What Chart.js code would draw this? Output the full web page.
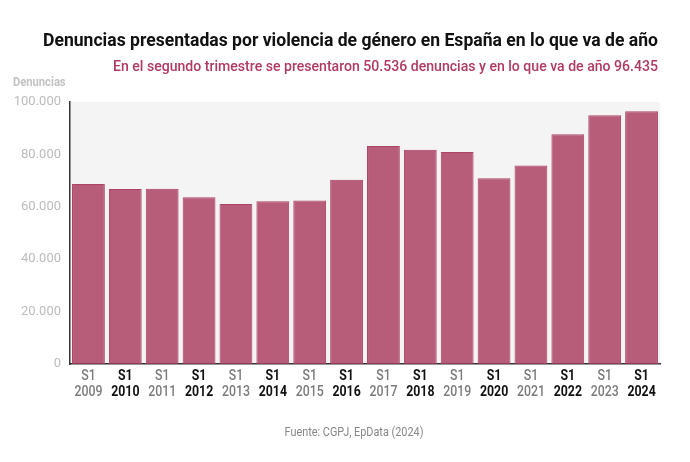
<!DOCTYPE html>
<html lang="es">
<head>
    <meta charset="UTF-8">
    <title>Denuncias por violencia de género</title>
    <script src="https://cdn.jsdelivr.net/npm/chart.js"></script>
    <style>
        html, body {margin: 0; padding: 0; background: #fff;}
        #wrap {width: 690px; height: 462px; position: relative;}
    </style>
</head>
<body>
    <div id="wrap">
        <canvas id="chart_canvas"></canvas>
    </div>
    <script>
        // Datos (primer semestre de cada año)
        const periods = ['S1', 'S1', 'S1', 'S1', 'S1', 'S1', 'S1', 'S1', 'S1', 'S1', 'S1', 'S1', 'S1', 'S1', 'S1', 'S1'];
        const years = ['2009', '2010', '2011', '2012', '2013', '2014', '2015', '2016', '2017', '2018', '2019', '2020', '2021', '2022', '2023', '2024'];
        const denuncias = [68700, 66800, 66900, 63600, 61100, 62100, 62400, 70300, 83200, 81800, 80900, 70900, 75800, 87700, 94900, 96435];
        const yTicks = [0, 20000, 40000, 60000, 80000, 100000];

        const titleText = 'Denuncias presentadas por violencia de género en España en lo que va de año';
        const subtitleText = 'En el segundo trimestre se presentaron 50.536 denuncias y en lo que va de año 96.435';
        const sourceText = 'Fuente: CGPJ, EpData (2024)';

        const fmt = (v) => String(v).replace(/\B(?=(\d{3})+(?!\d))/g, '.');

        // Texto algo "condensado": se escala en horizontal (no hay Roboto Condensed)
        function drawNarrow(ctx, text, x, y, align, sx) {
            const w = ctx.measureText(text).width * sx;
            let left = x;
            if (align === 'right') left = x - w;
            else if (align === 'center') left = x - w / 2;
            ctx.save();
            ctx.translate(left, y);
            ctx.scale(sx, 1);
            ctx.textAlign = 'left';
            ctx.fillText(text, 0, 0);
            ctx.restore();
        }
        function fitScale(ctx, text, width) {
            return width / ctx.measureText(text).width;
        }

        const decor = {
            id: 'decor',
            beforeDraw(chart) {
                const {ctx, chartArea: a} = chart;
                ctx.save();
                ctx.fillStyle = '#f4f4f4';
                ctx.fillRect(a.left, a.top, a.right - a.left, a.bottom - a.top);
                ctx.restore();
            },
            afterDraw(chart) {
                const ctx = chart.ctx;
                const xs = chart.scales.x;
                ctx.save();
                ctx.textBaseline = 'middle';

                ctx.fillStyle = '#111';
                ctx.font = 'bold 19px Roboto';
                drawNarrow(ctx, titleText, 658, 41, 'right', fitScale(ctx, titleText, 615));

                ctx.fillStyle = '#b03a62';
                ctx.font = '500 15px Roboto';
                drawNarrow(ctx, subtitleText, 658, 67, 'right', fitScale(ctx, subtitleText, 545));

                ctx.fillStyle = '#c2c2c2';
                ctx.font = 'bold 13px Roboto';
                drawNarrow(ctx, 'Denuncias', 13, 83, 'left', 0.86);

                ctx.fillStyle = '#888';
                ctx.font = '13px Roboto';
                drawNarrow(ctx, sourceText, 354, 433, 'center', fitScale(ctx, sourceText, 139));

                // etiquetas del eje x
                years.forEach((y, i) => {
                    const px = xs.getPixelForValue(i);
                    const strong = i % 2 === 1;
                    ctx.fillStyle = strong ? '#111' : '#7b7b7b';
                    ctx.font = (strong ? 'bold' : '500') + ' 14px Roboto';
                    drawNarrow(ctx, periods[i], px, 376, 'center', 0.88);
                    drawNarrow(ctx, y, px, 392, 'center', 0.88);
                });
                ctx.restore();
            }
        };

        new Chart(document.getElementById('chart_canvas'), {
            type: 'bar',
            data: {
                labels: years.map((y, i) => periods[i] + ' ' + y),
                datasets: [{
                    label: 'Denuncias',
                    data: denuncias,
                    backgroundColor: 'rgba(170, 60, 95, 0.82)',
                    borderColor: '#ad4463',
                    borderWidth: 1,
                    barPercentage: 0.89,
                    categoryPercentage: 1.0
                }]
            },
            options: {
                responsive: true,
                maintainAspectRatio: false,
                animation: false,
                layout: {padding: {top: 102, right: 30, left: 0, bottom: 0}},
                plugins: {
                    legend: {display: false},
                    tooltip: {enabled: false}
                },
                scales: {
                    x: {
                        grid: {display: false, drawTicks: false},
                        border: {display: true, color: '#333', width: 1.5},
                        afterFit: (scale) => { scale.height = 98; },
                        ticks: {display: false}
                    },
                    y: {
                        min: 0,
                        max: 100000,
                        afterFit: (scale) => { scale.width = 70; },
                        afterBuildTicks: (scale) => { scale.ticks = yTicks.map(v => ({value: v})); },
                        grid: {display: false, drawTicks: false},
                        border: {display: true, color: '#333', width: 1.5},
                        ticks: {
                            padding: 9,
                            color: '#bcbcbc',
                            font: {family: 'Roboto', size: 13},
                            callback: (v) => fmt(v)
                        }
                    }
                }
            },
            plugins: [decor]
        });
    </script>
</body>
</html>
